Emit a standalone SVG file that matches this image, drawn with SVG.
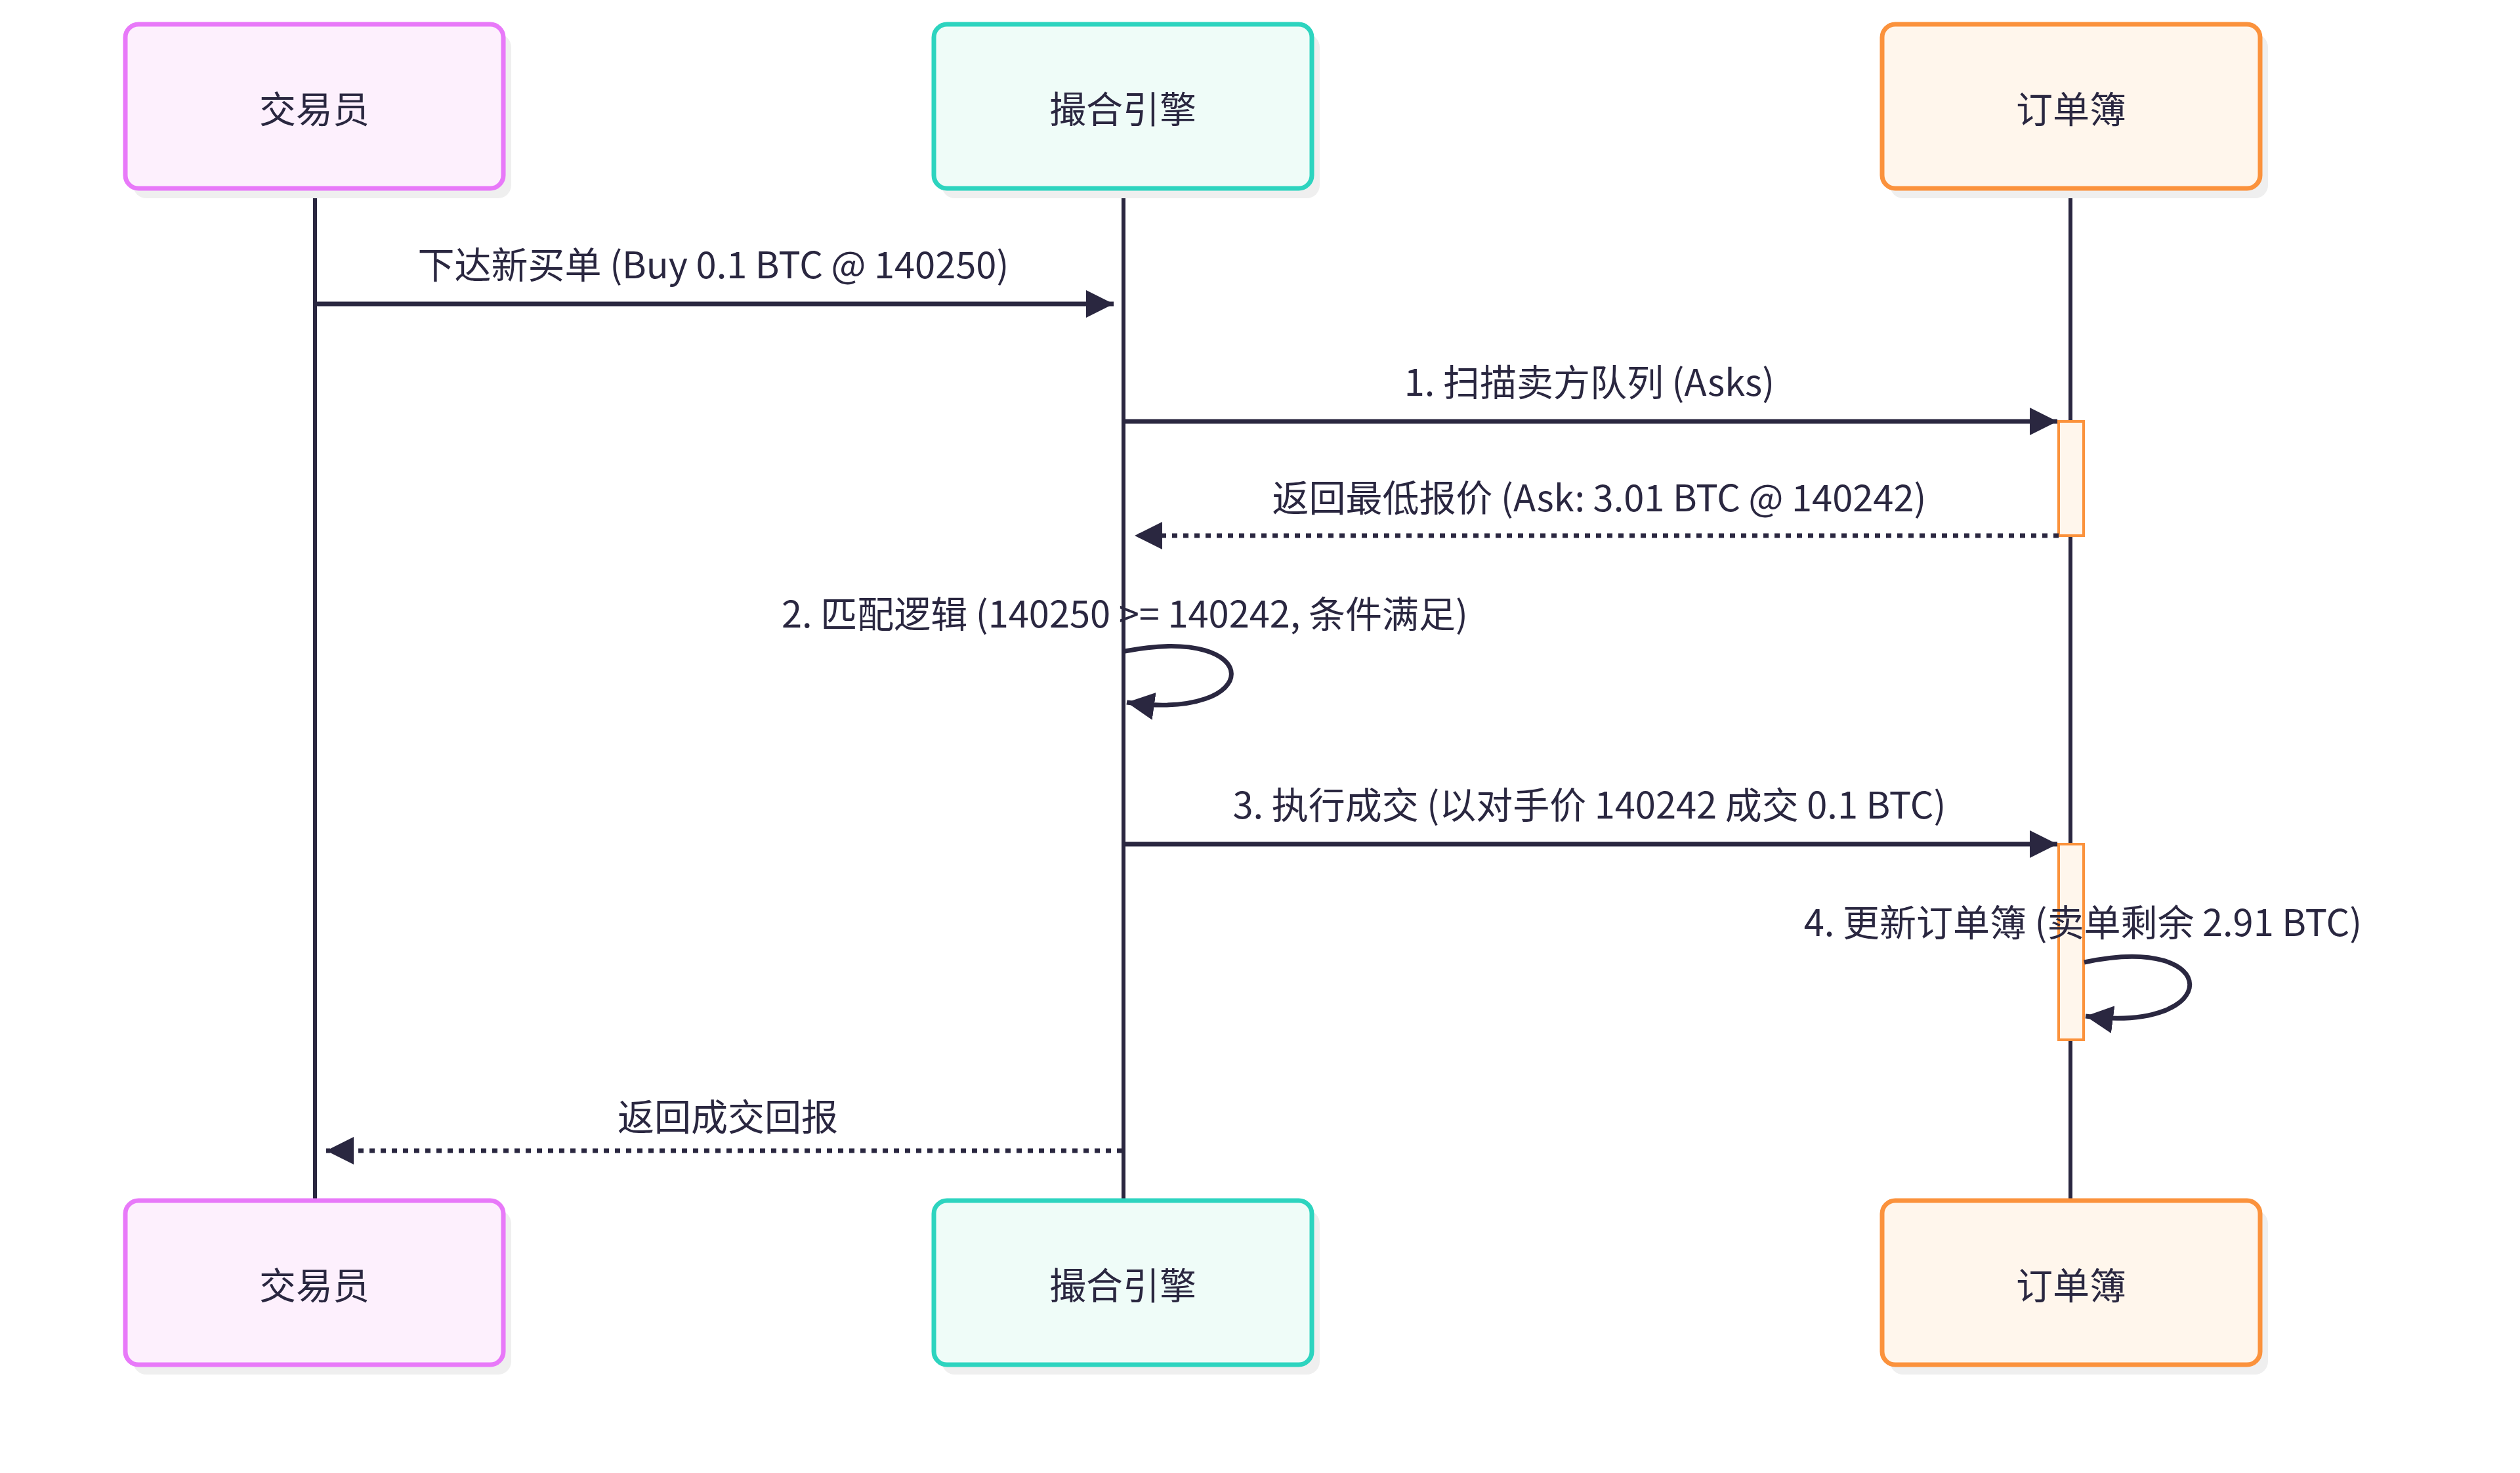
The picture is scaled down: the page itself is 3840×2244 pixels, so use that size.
<svg xmlns="http://www.w3.org/2000/svg" width="3840" height="2244" viewBox="0 0 3840 2244">
<style>
text{font-family:"Noto Sans CJK SC","Noto Sans",sans-serif;font-size:56px;fill:#2a2740;text-anchor:middle;dominant-baseline:central}
.sh{fill:#efefef}
.a rect.b{fill:#fdf0fd;stroke:#e879f9;stroke-width:7}
.e rect.b{fill:#effcf8;stroke:#2dd4bf;stroke-width:7}
.o rect.b{fill:#fff6ec;stroke:#fb923c;stroke-width:7}
.life{stroke:#2a2740;stroke-width:6}
.msg{stroke:#2a2740;stroke-width:7;fill:none}
.dot{stroke-dasharray:8 9}
.act{fill:#fff6ec;stroke:#fb923c;stroke-width:4}
</style>
<defs>
<marker id="ah" viewBox="0 0 10 10" refX="10" refY="5" markerWidth="6" markerHeight="6" orient="auto-start-reverse" markerUnits="strokeWidth"><path d="M0,0L10,5L0,10z" fill="#2a2740"/></marker>
</defs>
<g id="lifelines">
<line class="life" x1="480" y1="287" x2="480" y2="1829"/>
<line class="life" x1="1712" y1="287" x2="1712" y2="1829"/>
<line class="life" x1="3155" y1="287" x2="3155" y2="1829"/>
</g>
<g id="p-trader-top" class="a"><rect class="sh" x="203" y="52" width="576" height="250" rx="20"/><rect class="b" x="191" y="37" width="576" height="250" rx="20"/><text x="479" y="162">交易员</text></g>
<g id="p-engine-top" class="e"><rect class="sh" x="1435" y="52" width="576" height="250" rx="20"/><rect class="b" x="1423" y="37" width="576" height="250" rx="20"/><text x="1711" y="162">撮合引擎</text></g>
<g id="p-book-top" class="o"><rect class="sh" x="2880" y="52" width="576" height="250" rx="20"/><rect class="b" x="2868" y="37" width="576" height="250" rx="20"/><text x="3156" y="162">订单簿</text></g>
<g id="p-trader-bot" class="a"><rect class="sh" x="203" y="1844" width="576" height="250" rx="20"/><rect class="b" x="191" y="1829" width="576" height="250" rx="20"/><text x="479" y="1954">交易员</text></g>
<g id="p-engine-bot" class="e"><rect class="sh" x="1435" y="1844" width="576" height="250" rx="20"/><rect class="b" x="1423" y="1829" width="576" height="250" rx="20"/><text x="1711" y="1954">撮合引擎</text></g>
<g id="p-book-bot" class="o"><rect class="sh" x="2880" y="1844" width="576" height="250" rx="20"/><rect class="b" x="2868" y="1829" width="576" height="250" rx="20"/><text x="3156" y="1954">订单簿</text></g>
<g id="activations">
<rect class="act" x="3137" y="642" width="38" height="174"/>
<rect class="act" x="3137" y="1286" width="38" height="298"/>
</g>
<g id="connectors">
<line class="msg" x1="482" y1="463" x2="1697" y2="463" marker-end="url(#ah)"/>
<text x="1087" y="399">下达新买单 (Buy 0.1 BTC @ 140250)</text>
<line class="msg" x1="1714" y1="642" x2="3135" y2="642" marker-end="url(#ah)"/>
<text x="2422" y="578">1. 扫描卖方队列 (Asks)</text>
<line class="msg dot" x1="3137" y1="816" x2="1729" y2="816" marker-end="url(#ah)"/>
<text x="2437" y="754">返回最低报价 (Ask: 3.01 BTC @ 140242)</text>
<text x="1714" y="931">2. 匹配逻辑 (140250 &gt;= 140242, 条件满足)</text>
<path class="msg" d="M1714,992 C1930,950 1930,1100 1717,1070" marker-end="url(#ah)"/>
<line class="msg" x1="1714" y1="1286" x2="3135" y2="1286" marker-end="url(#ah)"/>
<text x="2422" y="1222">3. 执行成交 (以对手价 140242 成交 0.1 BTC)</text>
<text x="3174" y="1401">4. 更新订单簿 (卖单剩余 2.91 BTC)</text>
<path class="msg" d="M3176,1466 C3390,1420 3390,1575 3178,1548" marker-end="url(#ah)"/>
<line class="msg dot" x1="1710" y1="1753" x2="497" y2="1753" marker-end="url(#ah)"/>
<text x="1109" y="1697">返回成交回报</text>
</g>
</svg>
